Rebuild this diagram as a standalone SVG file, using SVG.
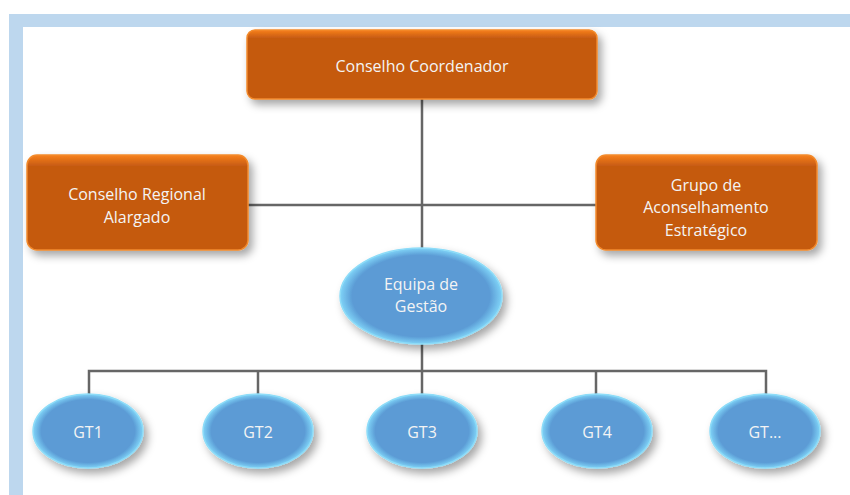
<svg xmlns="http://www.w3.org/2000/svg" width="850" height="495" viewBox="0 0 850 495">
<defs>
<linearGradient id="og" x1="0" y1="0" x2="0" y2="1">
<stop offset="0" stop-color="#f8801c"/>
<stop offset="0.12" stop-color="#c55a11"/>
<stop offset="1" stop-color="#c55a11"/>
</linearGradient>
<radialGradient id="bg" cx="0.5" cy="0.5" r="0.5">
<stop offset="0.85" stop-color="#5b9bd5"/>
<stop offset="1" stop-color="#7fd3f7"/>
</radialGradient>
<filter id="sh" x="-20%" y="-20%" width="150%" height="160%">
<feDropShadow dx="4" dy="5" stdDeviation="4" flood-color="#000" flood-opacity="0.35"/>
</filter>
</defs>
<style>
.box{fill:url(#og);stroke:#f28a2c;stroke-width:1.5;filter:url(#sh)}
.ell{fill:url(#bg);stroke:#8edcf8;stroke-width:1.5;filter:url(#sh)}
.t{font-family:"Open Sans","Liberation Sans",sans-serif;font-size:16px;fill:#f4f4f4;text-anchor:middle;dominant-baseline:central}
.ln{stroke:#666666;stroke-width:2.5;fill:none}
</style>
<rect x="0" y="0" width="850" height="495" fill="#ffffff"/>
<g id="frame">
<rect x="9" y="14" width="841" height="13" fill="#bdd7ee"/>
<rect x="9" y="14" width="14" height="481" fill="#bdd7ee"/>
</g>
<g id="connectors">
<line class="ln" x1="422" y1="99" x2="422" y2="250"/>
<line class="ln" x1="248" y1="205" x2="596" y2="205"/>
<line class="ln" x1="422" y1="343" x2="422" y2="371"/>
<polyline class="ln" points="89,396 89,371 766,371 766,396"/>
<line class="ln" x1="258" y1="371" x2="258" y2="396"/>
<line class="ln" x1="422" y1="371" x2="422" y2="396"/>
<line class="ln" x1="596" y1="371" x2="596" y2="396"/>
</g>
<g id="n-coordenador">
<rect class="box" x="247" y="30" width="350" height="69" rx="8"/>
<text class="t" x="422" y="66">Conselho Coordenador</text>
</g>
<g id="n-regional">
<rect class="box" x="27" y="155" width="221" height="95" rx="10"/>
<text class="t" x="137" y="194">Conselho Regional</text>
<text class="t" x="137" y="217">Alargado</text>
</g>
<g id="n-grupo">
<rect class="box" x="596" y="155" width="221" height="95" rx="10"/>
<text class="t" x="706" y="185">Grupo de</text>
<text class="t" x="706" y="207">Aconselhamento</text>
<text class="t" x="706" y="230">Estratégico</text>
</g>
<g id="n-equipa">
<ellipse class="ell" cx="421" cy="296" rx="81" ry="48"/>
<text class="t" x="421" y="284">Equipa de</text>
<text class="t" x="421" y="306">Gestão</text>
</g>
<g id="n-gt1">
<ellipse class="ell" cx="88" cy="431" rx="55" ry="37"/>
<text class="t" x="88" y="432">GT1</text>
</g>
<g id="n-gt2">
<ellipse class="ell" cx="258" cy="431" rx="55" ry="37"/>
<text class="t" x="258" y="432">GT2</text>
</g>
<g id="n-gt3">
<ellipse class="ell" cx="422" cy="431" rx="55" ry="37"/>
<text class="t" x="422" y="432">GT3</text>
</g>
<g id="n-gt4">
<ellipse class="ell" cx="597" cy="431" rx="55" ry="37"/>
<text class="t" x="597" y="432">GT4</text>
</g>
<g id="n-gt5">
<ellipse class="ell" cx="765" cy="431" rx="55" ry="37"/>
<text class="t" x="765" y="432">GT...</text>
</g>
</svg>
